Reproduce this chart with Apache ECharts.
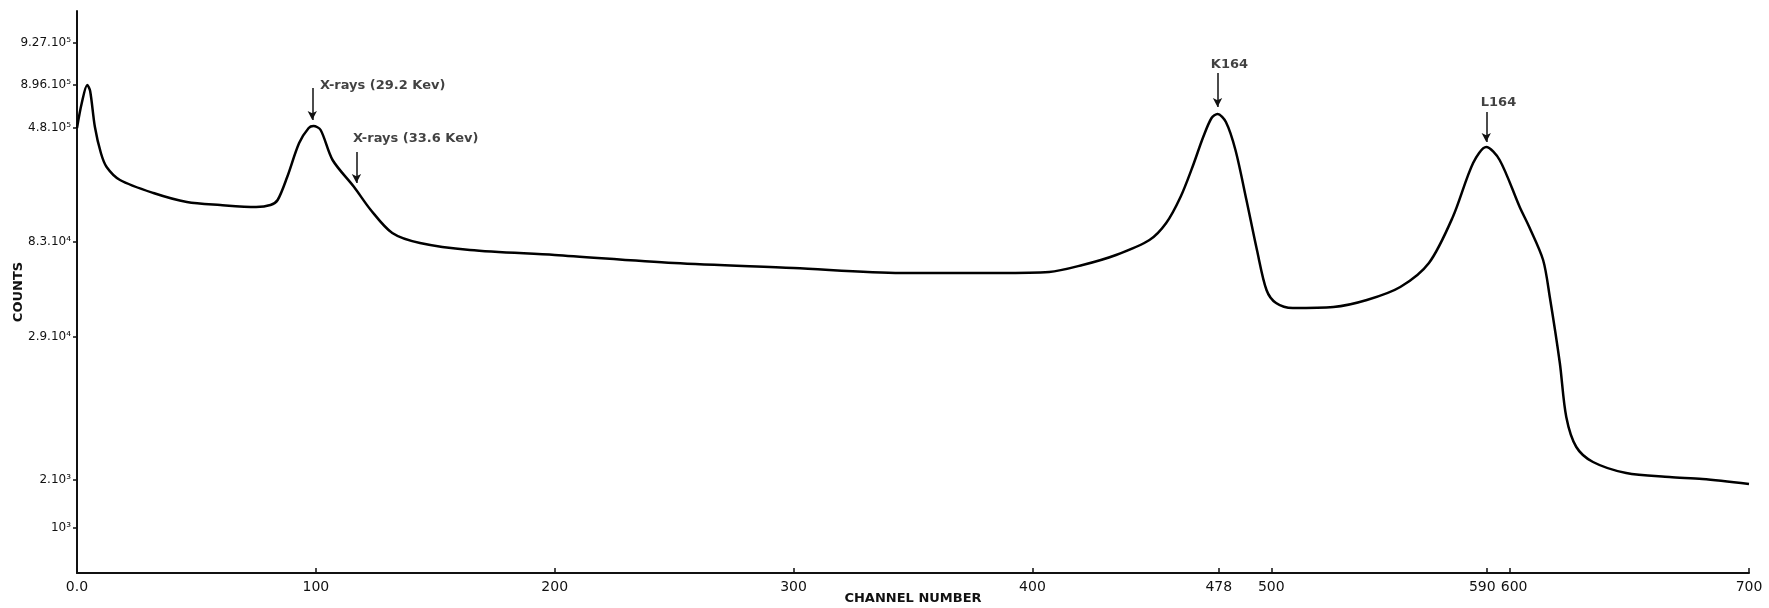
<!DOCTYPE html>
<html>
<head>
<meta charset="utf-8">
<script src="https://cdn.jsdelivr.net/npm/echarts@6/dist/echarts.min.js"></script>
<style>
html,body{margin:0;padding:0;background:#fff;}
#chart{width:1769px;height:608px;}
</style>
</head>
<body>
<div id="chart"></div>
<script>
// Curve: channel number vs. plotted height (arbitrary log-like units, 0 = baseline)
const channel = [0, 2, 4.3, 5.5, 7.5, 10, 12.4, 18, 32, 46, 60, 75, 81, 84, 88, 93, 97, 99, 102, 107, 116, 123, 132, 143.6, 164.5, 200, 250, 300, 345, 386, 407, 421, 435, 449, 456, 462, 467, 471.5, 475, 477.5, 481, 485, 489.6, 494, 498, 502, 509, 526, 540, 554, 566, 576, 584.5, 590, 595.6, 604, 608, 613.8, 616.6, 620.8, 623.5, 627.7, 634.7, 648.6, 666.7, 680.5, 700];
const height  = [445, 470, 488, 482, 446, 420, 406, 393, 380, 371, 368, 366, 368, 373, 396, 430, 445, 447, 443, 413, 386, 363, 340, 330, 323, 318, 310, 305, 300, 300, 301, 308, 318, 333, 350, 376, 406, 436, 455, 459, 451, 423, 373, 323, 283, 270, 265, 266, 273, 286, 310, 356, 410, 426, 413, 366, 346, 313, 276, 210, 156, 126, 111, 100, 96, 94, 89];

// Axis ticks
const xTickValues = [0, 100, 200, 300, 400, 478, 500, 590, 600, 700];
const xTickLabels = ['0.0', '100', '200', '300', '400', '478', '500', '590', '600', '700'];
const yTickValues = [530, 488, 445, 331, 236, 93, 45];
const yTickLabels = ['9.27.10\u2075', '8.96.10\u2075', '4.8.10\u2075', '8.3.10\u2074', '2.9.10\u2074', '2.10\u00B3', '10\u00B3'];

// Annotations
const annotationText    = ['X-rays (29.2 Kev)', 'X-rays (33.6 Kev)', 'K164', 'L164'];
const annotationTextX   = [101.7, 115.5, 474.7, 587.7];
const annotationTextY   = [487, 434, 508, 470];
const arrowChannel      = [98.5, 117, 477.5, 590];
const arrowTop          = [485, 421, 500, 461];
const arrowTip          = [453, 390, 466, 431];

const FONT = 'DejaVu Sans';
const curve = channel.map((c, i) => [c, height[i]]);
const annData = annotationText.map((t, i) => [annotationTextX[i], annotationTextY[i], t]);
const arrows = arrowChannel.map((c, i) => [{coord: [c, arrowTop[i]]}, {coord: [c, arrowTip[i]]}]);

function xLabel(v) {
  const t = xTickLabels[xTickValues.indexOf(v)];
  if (v === 590) return '{l|' + t + '}';
  if (v === 600) return '{r|' + t + '}';
  return t;
}

const chart = echarts.init(document.getElementById('chart'), null, {renderer: 'canvas'});
chart.setOption({
  animation: false,
  backgroundColor: '#fff',
  grid: {left: 77, right: 20, top: 11, bottom: 35, containLabel: false, outerBoundsMode: 'none'},
  xAxis: {
    type: 'value', min: 0, max: 700,
    name: 'CHANNEL NUMBER', nameLocation: 'middle', nameGap: 19, nameMoveOverlap: false,
    nameTextStyle: {fontFamily: FONT, fontSize: 13, fontWeight: 'bold', color: '#111'},
    axisLine: {show: true, lineStyle: {color: '#111', width: 2}},
    axisTick: {show: true, inside: true, length: 5, lineStyle: {color: '#111', width: 1.5}, customValues: xTickValues},
    axisLabel: {show: true, customValues: xTickValues, margin: 7, fontFamily: FONT, fontSize: 14, color: '#111',
      formatter: xLabel,
      rich: {
        l: {fontFamily: FONT, fontSize: 14, color: '#111', padding: [0, 8, 0, 0]},
        r: {fontFamily: FONT, fontSize: 14, color: '#111', padding: [0, 0, 0, 8]}
      }},
    splitLine: {show: false}
  },
  yAxis: {
    type: 'value', min: 0, max: 562,
    name: 'COUNTS', nameLocation: 'middle', nameGap: 52, nameRotate: 90, nameMoveOverlap: false,
    nameTextStyle: {fontFamily: FONT, fontSize: 13, fontWeight: 'bold', color: '#111'},
    axisLine: {show: true, lineStyle: {color: '#111', width: 2}},
    axisTick: {show: true, length: 4, lineStyle: {color: '#111', width: 1.5}, customValues: yTickValues},
    axisLabel: {show: true, customValues: yTickValues, margin: 6, fontFamily: FONT, fontSize: 12, color: '#111',
      formatter: v => yTickLabels[yTickValues.indexOf(v)]},
    splitLine: {show: false}
  },
  series: [
    {
      type: 'line', data: curve, smooth: 0.3, showSymbol: false,
      lineStyle: {color: '#000', width: 2.5}
    },
    {
      type: 'scatter', data: annData, symbolSize: 0, silent: true,
      label: {show: true, position: 'right', distance: 0, formatter: p => p.data[2],
        fontFamily: FONT, fontSize: 13, fontWeight: 'bold', color: '#111'},
      markLine: {
        silent: true, symbol: ['none', 'arrow'], symbolSize: [7, 9],
        lineStyle: {color: '#111', width: 1.5, type: 'solid'},
        label: {show: false},
        data: arrows
      }
    }
  ]
});
</script>
</body>
</html>
